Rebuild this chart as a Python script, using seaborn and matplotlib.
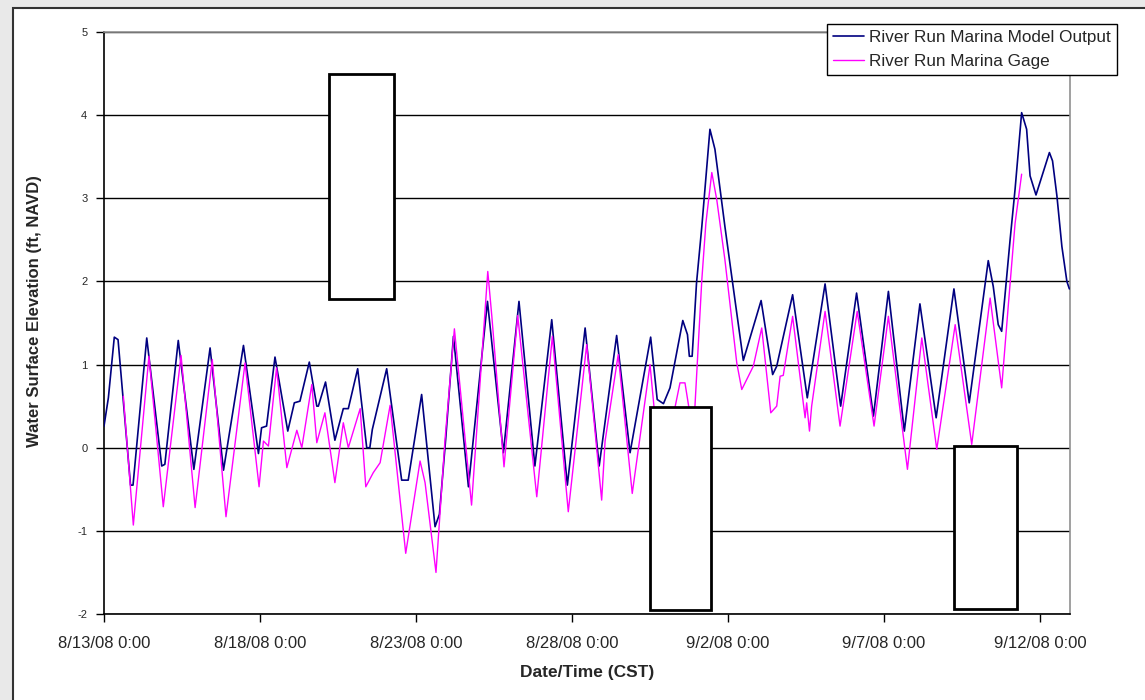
import numpy as np
import pandas as pd
import matplotlib.pyplot as plt
import matplotlib.dates as mdates
from matplotlib.patches import Rectangle
import seaborn as sns

sns.set_style("white")
plt.rcParams['font.family'] = ['Liberation Sans', 'DejaVu Sans']
plt.rcParams['axes.unicode_minus'] = False

# -------------------------------
# Data (days after 8/13/08 0:00, ft NAVD)
# -------------------------------
start = pd.Timestamp('2008-08-13 00:00')

model_days = [0.00, 0.14, 0.33, 0.45, 0.85, 0.93, 1.37, 1.85, 1.95, 2.38, 2.88, 3.40, 3.83, 4.47,
              4.95, 5.05, 5.21, 5.48, 5.89, 6.10, 6.28, 6.58, 6.82, 6.87, 7.10, 7.40, 7.67, 7.83,
              8.13, 8.42, 8.52, 8.60, 9.06, 9.54, 9.75, 10.18, 10.61, 10.75, 10.95, 11.20, 11.68,
              12.29, 12.80, 13.30, 13.81, 14.35, 14.85, 15.42, 15.87, 16.43, 16.86, 17.52, 17.73,
              17.93, 18.14, 18.55, 18.70, 18.76, 18.85, 18.99, 19.16, 19.42, 19.58, 19.90, 20.06,
              20.28, 20.49, 21.06, 21.43, 21.56, 22.07, 22.54, 23.11, 23.61, 24.12, 24.66, 25.14,
              25.65, 26.15, 26.67, 27.24, 27.73, 28.34, 28.50, 28.66, 28.77, 29.04, 29.20, 29.41,
              29.57, 29.68, 29.87, 30.30, 30.40, 30.54, 30.70, 30.86, 30.94]
model_ft = [0.26, 0.60, 1.33, 1.30, -0.45, -0.45, 1.32, -0.22, -0.20, 1.29, -0.26, 1.20, -0.27, 1.23,
            -0.07, 0.24, 0.26, 1.09, 0.20, 0.54, 0.56, 1.03, 0.50, 0.50, 0.79, 0.09, 0.47, 0.47,
            0.95, 0.00, 0.00, 0.22, 0.95, -0.39, -0.39, 0.64, -0.95, -0.80, 0.10, 1.34, -0.47,
            1.76, -0.06, 1.76, -0.22, 1.54, -0.45, 1.44, -0.22, 1.35, -0.06, 1.33, 0.58,
            0.53, 0.72, 1.53, 1.36, 1.10, 1.10, 1.98, 2.66, 3.83, 3.59, 2.66, 2.22,
            1.62, 1.05, 1.77, 0.88, 0.98, 1.84, 0.60, 1.97, 0.50, 1.86, 0.38, 1.88,
            0.20, 1.73, 0.36, 1.91, 0.54, 2.25, 1.94, 1.48, 1.40, 2.50, 3.11, 4.03,
            3.83, 3.27, 3.04, 3.55, 3.45, 3.03, 2.42, 2.00, 1.91]

gage_days = [0.62, 0.94, 1.44, 1.90, 2.47, 2.92, 3.47, 3.91, 4.52, 4.97, 5.11, 5.27, 5.53, 5.86,
             6.18, 6.34, 6.66, 6.82, 7.08, 7.40, 7.67, 7.83, 8.21, 8.39, 8.63, 8.85, 9.17, 9.67,
             10.13, 10.29, 10.64, 10.93, 11.23, 11.78, 12.30, 12.43, 12.82, 13.26, 13.87, 14.37,
             14.88, 15.47, 15.95, 16.06, 16.48, 16.93, 17.50, 17.75, 17.95, 18.20, 18.46, 18.62,
             18.73, 18.83, 18.94, 19.16, 19.29, 19.48, 19.64, 19.90, 20.28, 20.44, 20.81, 21.08,
             21.37, 21.56, 21.67, 21.77, 22.07, 22.47, 22.52, 22.61, 22.68, 23.11, 23.59, 24.14,
             24.68, 25.14, 25.75, 26.21, 26.69, 27.28, 27.81, 28.40, 28.77, 28.98, 29.20, 29.41]
gage_ft = [0.62, -0.93, 1.10, -0.71, 1.11, -0.72, 1.06, -0.83, 1.02, -0.47, 0.08, 0.02, 0.96, -0.24,
           0.21, 0.00, 0.76, 0.06, 0.42, -0.42, 0.30, 0.00, 0.47, -0.47, -0.30, -0.18, 0.51, -1.27,
           -0.16, -0.42, -1.50, 0.10, 1.43, -0.69, 2.12, 1.58, -0.23, 1.59, -0.59, 1.34,
           -0.77, 1.24, -0.63, 0.08, 1.12, -0.55, 1.00, 0.00, -0.40, 0.30, 0.78, 0.78,
           0.52, 0.30, 0.50, 2.02, 2.70, 3.31, 2.98, 2.26, 1.02, 0.70, 0.98, 1.44,
           0.42, 0.50, 0.86, 0.87, 1.58, 0.36, 0.54, 0.20, 0.50, 1.64, 0.26, 1.64,
           0.26, 1.58, -0.26, 1.32, -0.02, 1.48, 0.04, 1.80, 0.72, 1.70, 2.70, 3.29]

series_names = ['River Run Marina Model Output', 'River Run Marina Gage']
tick_days = [0, 5, 10, 15, 20, 25, 30]
y_ticks = [-2, -1, 0, 1, 2, 3, 4, 5]

model = pd.DataFrame({'time': start + pd.to_timedelta(model_days, unit='D'), 'elev': model_ft})
gage = pd.DataFrame({'time': start + pd.to_timedelta(gage_days, unit='D'), 'elev': gage_ft})

# -------------------------------
# Figure
# -------------------------------
fig = plt.figure(figsize=(11.45, 7), dpi=100, facecolor='#e9e9e9')
fig.add_artist(Rectangle((13 / 1145, -0.02), 1.0, 1 - 8 / 700 + 0.02, transform=fig.transFigure,
                         facecolor='white', edgecolor='#333333', lw=1.5, zorder=-5))
ax = fig.add_axes([104 / 1145, 86 / 700, 966 / 1145, 582 / 700])
ax.set_facecolor('white')

sns.lineplot(data=model, x='time', y='elev', ax=ax, color='#000080', lw=1.2,
             label=series_names[0], zorder=3)
sns.lineplot(data=gage, x='time', y='elev', ax=ax, color='#ff00ff', lw=1.0,
             label=series_names[1], zorder=3)

ax.set_ylim(-2, 5)
ax.set_xlim(start, start + pd.Timedelta(days=30.96))
ax.set_yticks(y_ticks)
ax.set_xticks(start + pd.to_timedelta(tick_days, unit='D'))
ax.xaxis.set_major_formatter(mdates.DateFormatter('%-m/%-d/%y %-H:%M'))

ax.yaxis.grid(True, color='black', lw=1)
ax.xaxis.grid(False)
ax.set_axisbelow(True)

for side in ['left', 'bottom']:
    ax.spines[side].set_color('black')
    ax.spines[side].set_linewidth(1.2)
for side in ['top', 'right']:
    ax.spines[side].set_color('#909090')
    ax.spines[side].set_linewidth(1.2)

ax.tick_params(axis='both', direction='out', length=6, width=1, color='black',
               bottom=True, left=True)
ax.tick_params(axis='x', labelsize=12, pad=10)
ax.tick_params(axis='y', labelsize=8, pad=6)

ax.set_xlabel('Date/Time (CST)', fontsize=12.5, fontweight='bold', labelpad=10)
ax.set_ylabel('Water Surface Elevation (ft, NAVD)', fontsize=12, fontweight='bold')
ax.yaxis.set_label_coords(-0.064, 0.52)

# blank annotation boxes
for x0, y0, w, h in [(0.2329, 0.5412, 0.0673, 0.3866),
                     (0.5652, 0.0069, 0.0632, 0.3488),
                     (0.8799, 0.0086, 0.0652, 0.2801)]:
    ax.add_patch(Rectangle((x0, y0), w, h, transform=ax.transAxes, facecolor='white',
                           edgecolor='black', lw=2, zorder=5))

leg = ax.legend(loc='upper right', bbox_to_anchor=(1117 / 1145, 1 - 24 / 700),
                bbox_transform=fig.transFigure, fontsize=12.3, frameon=True, fancybox=False,
                edgecolor='black', framealpha=1, borderaxespad=0, handlelength=1.8,
                handletextpad=0.3, borderpad=0.35, labelspacing=0.5)
leg.get_frame().set_linewidth(1)
leg.set_zorder(6)

plt.savefig('out.png', dpi=100, facecolor=fig.get_facecolor())
